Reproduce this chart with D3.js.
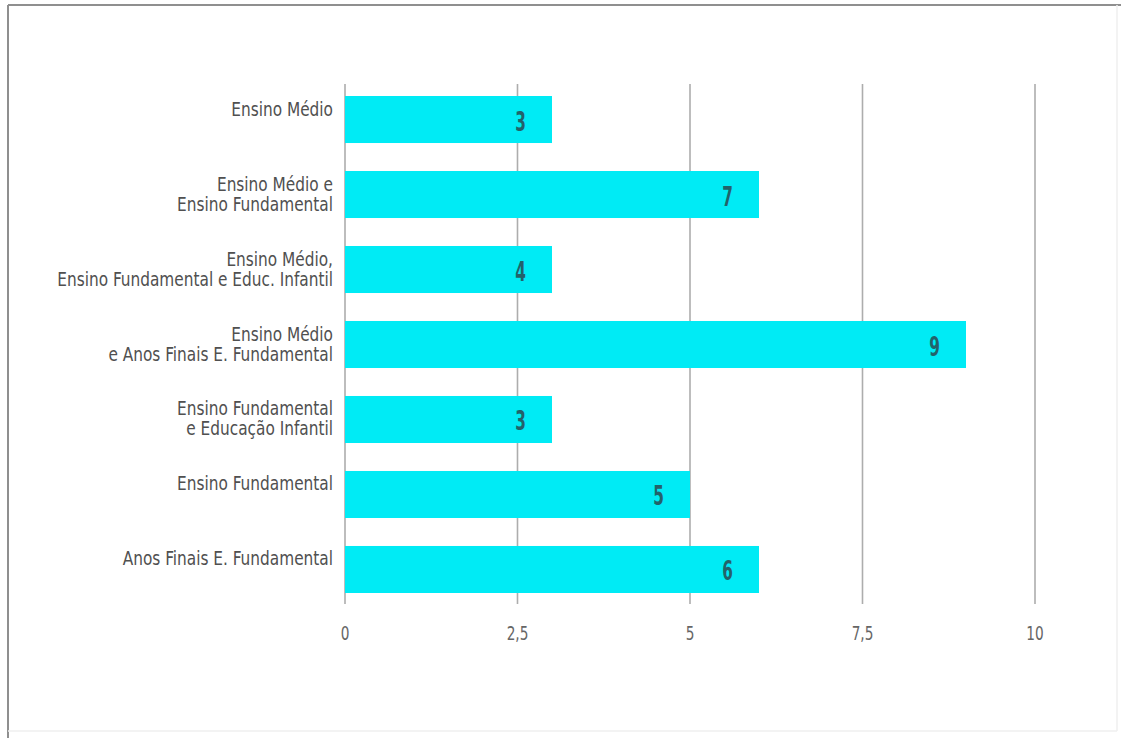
<!DOCTYPE html>
<html>
<head>
<meta charset="utf-8">
<script src="https://cdn.jsdelivr.net/npm/d3@7"></script>
<style>
  html, body { margin: 0; padding: 0; background: #fff; }
  svg { display: block; }
  text { font-family: "DejaVu Sans Condensed", "DejaVu Sans", sans-serif; font-stretch: condensed; }
</style>
</head>
<body>
<svg id="chart" width="1121" height="738"></svg>
<script>
// ---- data ----
const categories = [
  ["Ensino Médio"],
  ["Ensino Médio e", "Ensino Fundamental"],
  ["Ensino Médio,", "Ensino Fundamental e Educ. Infantil"],
  ["Ensino Médio", "e Anos Finais E. Fundamental"],
  ["Ensino Fundamental", "e Educação Infantil"],
  ["Ensino Fundamental"],
  ["Anos Finais E. Fundamental"]
];
const barValues = [3, 6, 3, 9, 3, 5, 6];      // bar lengths as drawn
const valueLabels = ["3", "7", "4", "9", "3", "5", "6"]; // numbers printed on bars
const tickValues = [0, 2.5, 5, 7.5, 10];
const tickLabels = ["0", "2,5", "5", "7,5", "10"];

// ---- chart ----
const svg = d3.select("#chart");

// frame
svg.append("line").attr("x1", 8).attr("x2", 1121).attr("y1", 5).attr("y2", 5)
  .attr("stroke", "#8f8f8f").attr("stroke-width", 2);
svg.append("line").attr("x1", 8).attr("x2", 8).attr("y1", 5).attr("y2", 738)
  .attr("stroke", "#8f8f8f").attr("stroke-width", 2);
svg.append("line").attr("x1", 8).attr("x2", 1117).attr("y1", 731).attr("y2", 731)
  .attr("stroke", "#efefef").attr("stroke-width", 1.5);
svg.append("line").attr("x1", 1117).attr("x2", 1117).attr("y1", 5).attr("y2", 731)
  .attr("stroke", "#efefef").attr("stroke-width", 1.5);

const keys = categories.map((c, i) => i);
const x = d3.scaleLinear().domain([0, 10]).range([345, 1035]);
const y = d3.scaleBand().domain(keys).range([84, 605]).paddingInner(0.373).paddingOuter(0.16);

// gridlines
svg.append("g").selectAll("line").data(tickValues).join("line")
  .attr("x1", d => x(d)).attr("x2", d => x(d))
  .attr("y1", 84).attr("y2", 604)
  .attr("stroke", "#adadad").attr("stroke-width", 1.6);

// bars
svg.append("g").selectAll("rect").data(keys).join("rect")
  .attr("x", x(0))
  .attr("y", i => y(i))
  .attr("width", i => x(barValues[i]) - x(0))
  .attr("height", y.bandwidth())
  .attr("fill", "#00ebf5");

// value labels
svg.append("g").selectAll("text").data(keys).join("text")
  .attr("transform", i => `translate(${x(barValues[i]) - 26},${y(i) + y.bandwidth() / 2 + 11}) scale(0.68,1.05)`)
  .attr("text-anchor", "end")
  .attr("font-size", 25)
  .attr("font-weight", "bold")
  .attr("fill", "#23626a")
  .text(i => valueLabels[i]);

// category labels
const catG = svg.append("g");
keys.forEach(i => {
  const cy = y(i) + y.bandwidth() / 2;
  categories[i].forEach((line, k) => {
    catG.append("text")
      .attr("transform", `translate(333,${cy - 4 + k * 20}) scale(0.875,1.03)`)
      .attr("text-anchor", "end")
      .attr("font-size", 19.5)
      .attr("fill", "#505050")
      .text(line);
  });
});

// x tick labels
svg.append("g").selectAll("text").data(tickValues).join("text")
  .attr("transform", d => `translate(${x(d)},640) scale(0.8,1.05)`)
  .attr("text-anchor", "middle")
  .attr("font-size", 19)
  .attr("fill", "#666")
  .text((d, i) => tickLabels[i]);
</script>
</body>
</html>
